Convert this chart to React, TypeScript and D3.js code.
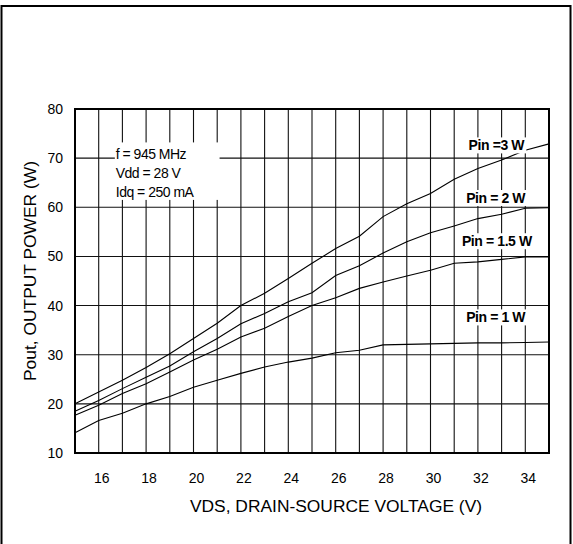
import React, { useEffect, useRef } from "react";
import * as d3 from "d3";

const vds = [15, 16, 17, 18, 19, 20, 21, 22, 23, 24, 25, 26, 27, 28, 29, 30, 31, 32, 33, 34, 35];

const pin3W = [20.0, 22.4, 24.8, 27.4, 30.2, 33.3, 36.4, 40.0, 42.5, 45.5, 48.6, 51.6, 54.1, 58.1, 60.7, 62.8, 65.7, 67.9, 69.6, 71.6, 72.9];
const pin2W = [18.5, 20.7, 23.1, 25.4, 27.7, 30.6, 33.3, 36.3, 38.4, 40.8, 42.6, 46.1, 48.1, 50.7, 53.0, 54.8, 56.2, 57.7, 58.6, 59.8, 59.9];
const pin15W = [17.7, 19.7, 22.1, 24.1, 26.5, 28.9, 31.1, 33.6, 35.4, 37.8, 40.0, 41.6, 43.5, 44.8, 46.0, 47.2, 48.6, 48.9, 49.4, 49.9, 49.9];
const pin1W = [14.1, 16.6, 18.1, 20.0, 21.5, 23.4, 24.8, 26.2, 27.5, 28.5, 29.3, 30.4, 30.9, 32.0, 32.1, 32.2, 32.3, 32.4, 32.4, 32.5, 32.6];

const seriesNames = ["Pin =3 W", "Pin = 2 W", "Pin = 1.5 W", "Pin = 1 W"];
const seriesValues = [pin3W, pin2W, pin15W, pin1W];

const xTicks = [16, 18, 20, 22, 24, 26, 28, 30, 32, 34];
const yTicks = [10, 20, 30, 40, 50, 60, 70, 80];

const conditions = ["f = 945 MHz", "Vdd = 28 V", "Idq = 250 mA"];

// label anchors in data units (V, W)
const labelAt = [
  { v: 32.78, w: 72.6 },
  { v: 32.75, w: 61.9 },
  { v: 32.8, w: 53.1 },
  { v: 32.75, w: 37.6 },
];

const FONT = "'Liberation Sans', Arial, sans-serif";

export default function App() {
  const svgRef = useRef<SVGSVGElement>(null);

  useEffect(() => {
    if (!svgRef.current) return;
    const svg = d3.select(svgRef.current);
    svg.selectAll("*").remove();

    const width = 573;
    const height = 544;
    const margin = { top: 109, right: 24, bottom: 91, left: 75 };

    svg.append("rect").attr("width", width).attr("height", height).attr("fill", "#fff");

    // outer frame
    svg
      .append("rect")
      .attr("x", 1.5)
      .attr("y", 6)
      .attr("width", 569)
      .attr("height", 560)
      .attr("fill", "none")
      .attr("stroke", "#000")
      .attr("stroke-width", 2);

    const x = d3.scaleLinear().domain([15, 35]).range([margin.left, width - margin.right]);
    const y = d3.scaleLinear().domain([10, 80]).range([height - margin.bottom, margin.top]);

    // Grid
    const grid = svg.append("g").attr("stroke", "#111").attr("stroke-width", 1.1);
    grid
      .selectAll("line.v")
      .data(d3.range(16, 35))
      .enter()
      .append("line")
      .attr("x1", (d) => x(d))
      .attr("x2", (d) => x(d))
      .attr("y1", y(10))
      .attr("y2", y(80));
    grid
      .selectAll("line.h")
      .data(yTicks.slice(1, -1))
      .enter()
      .append("line")
      .attr("x1", x(15))
      .attr("x2", x(35))
      .attr("y1", (d) => y(d))
      .attr("y2", (d) => y(d));

    // Conditions box
    const box = svg.append("g");
    box
      .append("rect")
      .attr("x", x(16.68))
      .attr("y", y(73.2))
      .attr("width", x(21.1) - x(16.68))
      .attr("height", y(61.5) - y(73.2))
      .attr("fill", "#fff");
    box
      .selectAll("text")
      .data(conditions)
      .enter()
      .append("text")
      .attr("x", x(16.72))
      .attr("y", (d, i) => y(69.8) + i * 18.7)
      .attr("font-family", FONT)
      .attr("font-size", 14)
      .attr("letter-spacing", -0.5)
      .text((d) => d);

    // Curves
    const line = d3
      .line<number>()
      .x((d, i) => x(vds[i]))
      .y((d) => y(d));
    svg
      .append("g")
      .selectAll("path")
      .data(seriesValues)
      .enter()
      .append("path")
      .attr("d", (d) => line(d))
      .attr("fill", "none")
      .attr("stroke", "#000")
      .attr("stroke-width", 1.1);

    // Series labels with white backgrounds
    seriesNames.forEach((name, i) => {
      const g = svg.append("g");
      const bg = g.append("rect").attr("fill", "#fff");
      const t = g
        .append("text")
        .attr("x", x(labelAt[i].v))
        .attr("y", y(labelAt[i].w))
        .attr("dy", "0.36em")
        .attr("text-anchor", "middle")
        .attr("font-family", FONT)
        .attr("font-size", 14)
        .attr("font-weight", "bold")
        .attr("letter-spacing", -0.4)
        .text(name);
      const b = (t.node() as SVGTextElement).getBBox();
      bg.attr("x", b.x - 1)
        .attr("y", b.y)
        .attr("width", b.width + 2)
        .attr("height", b.height);
    });

    // Plot border
    svg
      .append("rect")
      .attr("x", x(15))
      .attr("y", y(80))
      .attr("width", x(35) - x(15))
      .attr("height", y(10) - y(80))
      .attr("fill", "none")
      .attr("stroke", "#000")
      .attr("stroke-width", 2);

    // Y tick labels
    svg
      .append("g")
      .selectAll("text")
      .data(yTicks)
      .enter()
      .append("text")
      .attr("x", x(15) - 12)
      .attr("y", (d) => y(d))
      .attr("dy", "0.36em")
      .attr("text-anchor", "end")
      .attr("font-family", FONT)
      .attr("font-size", 14)
      .text((d) => d);

    // X tick labels
    svg
      .append("g")
      .selectAll("text")
      .data(xTicks)
      .enter()
      .append("text")
      .attr("x", (d) => x(d) + 3)
      .attr("y", y(10) + 30)
      .attr("text-anchor", "middle")
      .attr("font-family", FONT)
      .attr("font-size", 14)
      .text((d) => d);

    // Axis titles
    svg
      .append("text")
      .attr("x", (x(15) + x(35)) / 2 + 24)
      .attr("y", y(10) + 59)
      .attr("text-anchor", "middle")
      .attr("font-family", FONT)
      .attr("font-size", 17.4)
      .text("VDS, DRAIN-SOURCE VOLTAGE (V)");

    svg
      .append("text")
      .attr("transform", `translate(36, 271) rotate(-90)`)
      .attr("text-anchor", "middle")
      .attr("font-family", FONT)
      .attr("font-size", 17.4)
      .text("Pout, OUTPUT POWER (W)");
  }, []);

  return (
    <svg
      ref={svgRef}
      width={573}
      height={544}
      viewBox="0 0 573 544"
      style={{ position: "absolute", left: 0, top: 0, display: "block" }}
    />
  );
}
